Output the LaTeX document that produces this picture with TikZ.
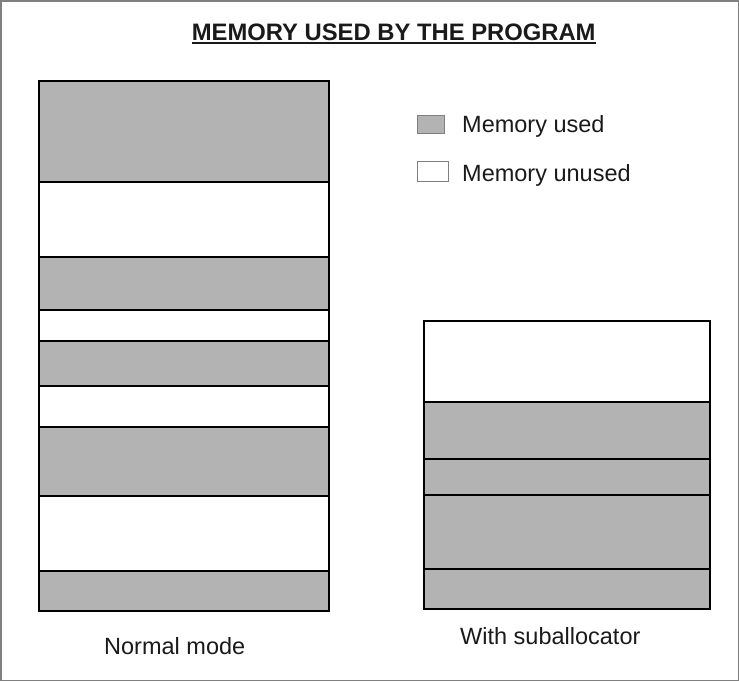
\documentclass[tikz,border=0pt]{standalone}
\usepackage{fontspec}
\setmainfont{Liberation Sans}
\begin{document}
\begin{tikzpicture}[x=1pt,y=-1pt,
  seg/.style={draw=black,line width=2.7pt,anchor=north west,inner sep=0pt,outer sep=0pt},
  used/.style={seg,fill=memgray},
  free/.style={seg,fill=white},
  legbox/.style={draw=legline,line width=1pt,anchor=north west,inner sep=0pt,outer sep=0pt},
  lbl/.style={anchor=base west,inner sep=0pt,text=txt,font=\fontsize{23.5}{27}\selectfont}]
\definecolor{memgray}{RGB}{179,179,179}
\definecolor{legline}{RGB}{128,128,128}
\definecolor{txt}{RGB}{26,26,26}
\useasboundingbox (0,0) rectangle (739,681);
\draw[draw=legline,line width=1.5pt] (0.75,0.75) rectangle (738.25,680.25);
% title
\node[anchor=base,inner sep=0pt,text=txt,font=\fontsize{23.8}{28}\selectfont\bfseries] (title) at (393.7,40.7) {MEMORY USED BY THE PROGRAM};
\draw[txt,line width=1.5pt] ([yshift=-2.2pt]title.base west) -- ([yshift=-2.2pt]title.base east);
% normal mode column
\node[used,minimum width=290pt,minimum height=101pt] (n1) at (39,81) {};
\node[free,minimum width=290pt,minimum height=75pt] (n2) at (39,182) {};
\node[used,minimum width=290pt,minimum height=53pt] (n3) at (39,257) {};
\node[free,minimum width=290pt,minimum height=31pt] (n4) at (39,310) {};
\node[used,minimum width=290pt,minimum height=45pt] (n5) at (39,341) {};
\node[free,minimum width=290pt,minimum height=41pt] (n6) at (39,386) {};
\node[used,minimum width=290pt,minimum height=69pt] (n7) at (39,427) {};
\node[free,minimum width=290pt,minimum height=75pt] (n8) at (39,496) {};
\node[used,minimum width=290pt,minimum height=40pt] (n9) at (39,571) {};
\node[lbl] (normal) at (104,654) {Normal mode};
% suballocator column
\node[free,minimum width=286pt,minimum height=81pt] (s1) at (424,321) {};
\node[used,minimum width=286pt,minimum height=57pt] (s2) at (424,402) {};
\node[used,minimum width=286pt,minimum height=36pt] (s3) at (424,459) {};
\node[used,minimum width=286pt,minimum height=74pt] (s4) at (424,495) {};
\node[used,minimum width=286pt,minimum height=40pt] (s5) at (424,569) {};
\node[lbl] (sub) at (460,644) {With suballocator};
% legend
\node[legbox,fill=memgray,minimum width=27pt,minimum height=18pt] (lg1) at (417.5,115.5) {};
\node[legbox,fill=white,minimum width=31pt,minimum height=20pt] (lg2) at (417.5,161.5) {};
\node[lbl] (lt1) at (462,132.3) {Memory used};
\node[lbl] (lt2) at (462,181) {Memory unused};
\end{tikzpicture}
\end{document}
